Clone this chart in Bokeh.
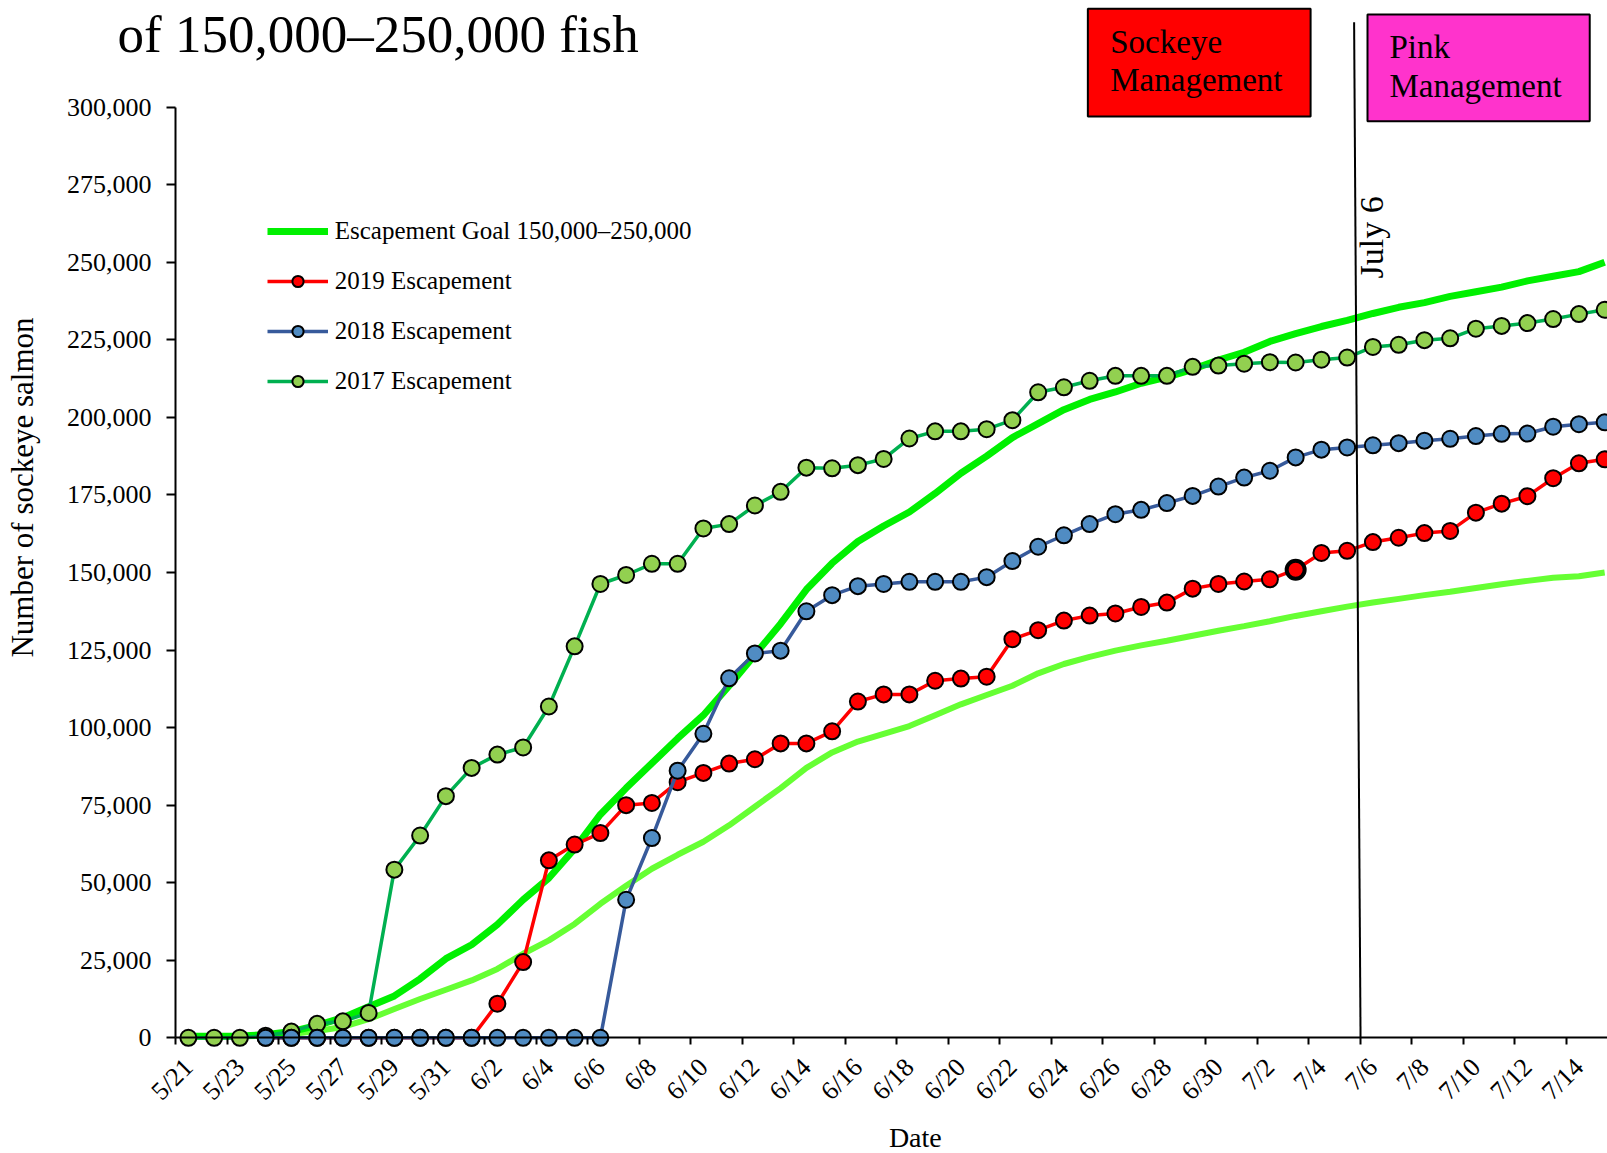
import math
from bokeh.plotting import figure
from bokeh.models import (Range1d, LinearAxis, FixedTicker, NumeralTickFormatter, Legend,
                          LegendItem, ColumnDataSource, Label, BoxAnnotation)
from bokeh.embed import file_html
from bokeh.resources import INLINE

NaN = float("nan")

dates = ["5/21", "5/22", "5/23", "5/24", "5/25", "5/26", "5/27", "5/28", "5/29", "5/30", "5/31",
         "6/1", "6/2", "6/3", "6/4", "6/5", "6/6", "6/7", "6/8", "6/9", "6/10",
         "6/11", "6/12", "6/13", "6/14", "6/15", "6/16", "6/17", "6/18", "6/19", "6/20",
         "6/21", "6/22", "6/23", "6/24", "6/25", "6/26", "6/27", "6/28", "6/29", "6/30",
         "7/1", "7/2", "7/3", "7/4", "7/5", "7/6", "7/7", "7/8", "7/9", "7/10",
         "7/11", "7/12", "7/13", "7/14", "7/15"]

goal_upper = [500, 500, 600, 1000, 2000, 4000, 6500, 10000, 13500, 19000, 25500,
              30000, 36500, 44500, 51500, 61000, 72000, 80500, 88500, 96500, 104000,
              113500, 123500, 133500, 144500, 153000, 160000, 165000, 169500, 175500, 182000,
              187500, 193500, 198000, 202500, 205800, 208200, 211000, 213000, 215500, 218500,
              221000, 224500, 227000, 229300, 231300, 233500, 235500, 237000, 239000, 240500,
              242000, 244000, 245500, 247000, 250000]

goal_lower = [300, 300, 400, 700, 1200, 2200, 3500, 6000, 9300, 12500, 15500,
              18500, 22200, 27100, 31400, 36700, 43200, 49000, 54500, 59000, 63200,
              68500, 74500, 80500, 87000, 92000, 95500, 98000, 100500, 104000, 107500,
              110500, 113500, 117500, 120500, 122800, 124800, 126500, 128000, 129600, 131200,
              132700, 134300, 136000, 137500, 139000, 140300, 141500, 142700, 143800, 145000,
              146200, 147300, 148300, 148800, 150000]

esc_2019 = [NaN, NaN, NaN, 0, 0, 0, 0, 0, 0, 0, 0,
            0, 11000, 24400, 57200, 62300, 66000, 75000, 75700, 82400, 85400,
            88400, 89800, 94900, 94900, 98800, 108400, 110700, 110700, 115100, 115800,
            116400, 128500, 131400, 134500, 136100, 136800, 138900, 140300, 144800, 146300,
            147100, 147800, 150900, 156300, 157000, 159800, 161200, 162700, 163400, 169300,
            172200, 174600, 180400, 185200, 186500]

esc_2018 = [NaN, NaN, NaN, 0, 0, 0, 0, 0, 0, 0, 0,
            0, 0, 0, 0, 0, 0, 44500, 64400, 86100, 98000,
            115900, 123900, 124800, 137500, 142700, 145600, 146300, 147000, 147000, 147000,
            148500, 153700, 158300, 162000, 165600, 168800, 170200, 172400, 174700, 177700,
            180600, 182800, 187100, 189600, 190300, 191000, 191700, 192500, 193100, 194000,
            194700, 194800, 197000, 197800, 198400]

esc_2017 = [0, 0, 0, 700, 2000, 4500, 5300, 8000, 54200, 65200, 77900,
            87000, 91300, 93600, 106800, 126200, 146300, 149200, 152800, 152800, 164200,
            165600, 171600, 176000, 183800, 183600, 184600, 186600, 193200, 195500, 195500,
            196200, 199100, 208100, 209700, 211800, 213400, 213400, 213400, 216300, 216700,
            217300, 217800, 217700, 218600, 219300, 222700, 223400, 224900, 225500, 228600,
            229500, 230400, 231700, 233300, 234700]

y_ticks = [0, 25000, 50000, 75000, 100000, 125000, 150000, 175000, 200000, 225000, 250000, 275000, 300000]

FONT = "Liberation Serif"
idx = list(range(len(dates)))

src = ColumnDataSource(dict(x=idx, gu=goal_upper, gl=goal_lower,
                            e19=esc_2019, e18=esc_2018, e17=esc_2017))

# the frame covers the whole canvas; axes are drawn at fixed data locations
p = figure(width=1607, height=1153, output_backend="svg", toolbar_location=None,
           x_range=Range1d(-7.296, 55.11), y_range=Range1d(-37299, 334397),
           x_axis_type=None, y_axis_type=None,
           min_border_left=0, min_border_right=0, min_border_top=0, min_border_bottom=0)
p.outline_line_color = None
p.background_fill_color = "white"
p.border_fill_color = "white"

# y axis
yax = LinearAxis(fixed_location=-0.5, ticker=FixedTicker(ticks=y_ticks),
                 formatter=NumeralTickFormatter(format="0,0"), bounds=(0, 300000))
yax.axis_line_width = 2
yax.axis_line_color = "black"
yax.major_tick_line_width = 2
yax.major_tick_out = 9
yax.major_tick_in = 0
yax.minor_tick_line_color = None
yax.major_label_standoff = 15
yax.major_label_text_font = FONT
yax.major_label_text_font_size = "26px"
yax.major_label_text_color = "black"
p.add_layout(yax, "left")

# x axis: labels every second day, tick marks (minor) at day boundaries
label_ticks = idx[::2]
boundary_ticks = [i - 0.5 for i in idx[::2]]
xax = LinearAxis(fixed_location=0, bounds=(-0.5, len(dates)),
                 ticker=FixedTicker(ticks=label_ticks, minor_ticks=boundary_ticks),
                 major_label_overrides={i: dates[i] for i in label_ticks})
xax.axis_line_width = 2
xax.axis_line_color = "black"
xax.major_tick_line_color = None
xax.major_tick_out = 0
xax.major_tick_in = 0
xax.minor_tick_line_color = "black"
xax.minor_tick_line_width = 2
xax.minor_tick_out = 7
xax.minor_tick_in = 0
xax.major_label_orientation = math.pi / 4
xax.major_label_standoff = 18
xax.major_label_text_font = FONT
xax.major_label_text_font_size = "26px"
xax.major_label_text_color = "black"
p.add_layout(xax, "below")

# goal lines
r_gl = p.line("x", "gl", source=src, line_color="#66FF33", line_width=6)
r_gu = p.line("x", "gu", source=src, line_color="#00F000", line_width=7)

# 2017
r17l = p.line("x", "e17", source=src, line_color="#00B050", line_width=3.5)
r17p = p.scatter("x", "e17", source=src, size=16, fill_color="#92D050", line_color="black", line_width=2)
# 2019
r19l = p.line("x", "e19", source=src, line_color="#FF0000", line_width=3.5)
r19p = p.scatter("x", "e19", source=src, size=16, fill_color="#FF0000", line_color="black", line_width=2)
HI = dates.index("7/3")
p.scatter(x=[HI], y=[esc_2019[HI]], size=18, fill_color="#FF0000", line_color="black", line_width=4)
# 2018
r18l = p.line("x", "e18", source=src, line_color="#375A9B", line_width=3.5)
r18p = p.scatter("x", "e18", source=src, size=16, fill_color="#508CC3", line_color="black", line_width=2)

# July 6 marker line
J6 = dates.index("7/6")
p.segment(x0=[J6 - 0.73], y0=[327400], x1=[J6 - 0.48], y1=[0], line_color="black", line_width=2)
p.add_layout(Label(x=J6 - 0.06, y=244780, text="July 6", angle=math.pi / 2,
                   text_font=FONT, text_font_size="34px", text_color="black",
                   text_align="left", text_baseline="middle"))

# management boxes
p.add_layout(BoxAnnotation(left=34.93, right=43.58, top=331720, bottom=297000,
                           fill_color="#FF0000", fill_alpha=1, line_color="black", line_width=2,
                           line_alpha=1))
p.add_layout(BoxAnnotation(left=45.79, right=54.42, top=329880, bottom=295490,
                           fill_color="#FF33CC", fill_alpha=1, line_color="black", line_width=2,
                           line_alpha=1))
for txt, x, y in [("Sockeye", 35.80, 321120), ("Management", 35.80, 308770),
                  ("Pink", 46.64, 319510), ("Management", 46.64, 306830)]:
    p.add_layout(Label(x=x, y=y, text=txt, text_font=FONT, text_font_size="33px",
                       text_color="black", text_align="left", text_baseline="middle"))

# title (second line visible)
p.add_layout(Label(x=-2.75, y=323730, text="of 150,000\u2013250,000 fish", text_font=FONT,
                   text_font_size="53px", text_color="black", text_align="left",
                   text_baseline="middle"))

# axis titles
p.add_layout(Label(x=-6.44, y=177400, text="Number of sockeye salmon", angle=math.pi / 2,
                   text_font=FONT, text_font_size="31px", text_color="black",
                   text_align="center", text_baseline="middle"))
p.add_layout(Label(x=28.23, y=-32140, text="Date", text_font=FONT, text_font_size="28px",
                   text_color="black", text_align="center", text_baseline="middle"))

legend = Legend(items=[
    LegendItem(label="Escapement Goal 150,000\u2013250,000", renderers=[r_gu]),
    LegendItem(label="2019 Escapement", renderers=[r19l, r19p]),
    LegendItem(label="2018 Escapement", renderers=[r18l, r18p]),
    LegendItem(label="2017 Escapement", renderers=[r17l, r17p]),
], location=(266.7, 757.7))
legend.label_text_font = FONT
legend.label_text_font_size = "25px"
legend.label_text_color = "black"
legend.glyph_width = 61
legend.glyph_height = 28
legend.label_height = 28
legend.spacing = 22
legend.label_standoff = 7
legend.padding = 0
legend.margin = 0
legend.border_line_color = None
legend.background_fill_alpha = 0
p.add_layout(legend)

open("out.html", "w").write(file_html(p, INLINE))
